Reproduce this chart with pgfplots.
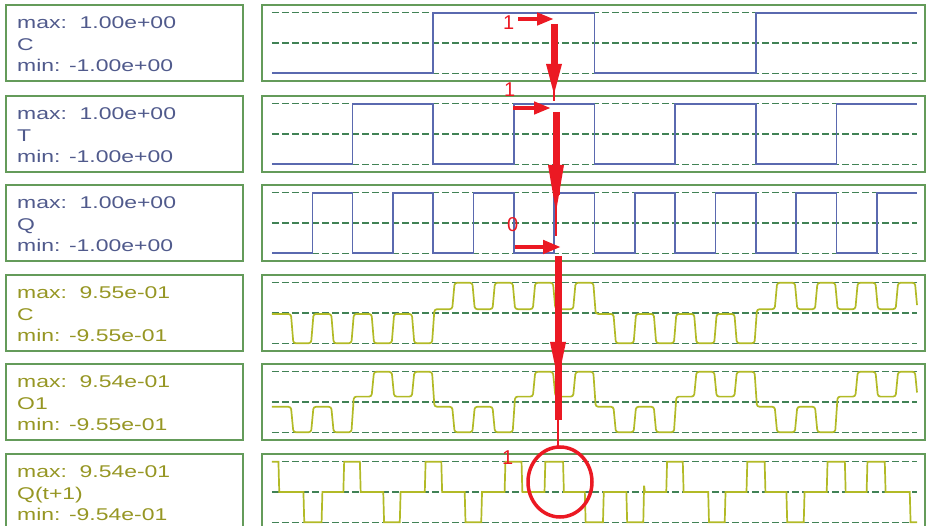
\documentclass[border=0pt]{standalone}
\usepackage{fontspec}
\usepackage{pgfplots}
\pgfplotsset{compat=1.18}
\usetikzlibrary{arrows.meta}
\newfontfamily\lblfont[FakeStretch=1.35]{Liberation Sans}
\newfontfamily\redfont{Liberation Sans}
\definecolor{framegreen}{RGB}{100,155,90}
\definecolor{gridgreen}{RGB}{65,130,85}
\definecolor{sigblue}{RGB}{90,105,175}
\definecolor{sigyellow}{RGB}{178,186,38}
\definecolor{textblue}{RGB}{80,90,140}
\definecolor{textyellow}{RGB}{150,150,35}
\definecolor{redc}{RGB}{235,25,35}
\pgfplotsset{
  wave/.style={scale only axis, width=663pt, height=76pt, anchor=north west,
    xmin=-0.248, xmax=16.198, xtick=\empty, ytick=\empty,
    axis line style={draw=framegreen, line width=2pt}, clip=false},
  gridline/.style={color=gridgreen, line width=1.25pt, dash pattern=on 7pt off 3pt, forget plot},
  bluesig/.style={color=sigblue, line width=1.6pt, mark=none},
  yelsig/.style={color=sigyellow, line width=1.7pt, mark=none, rounded corners=2.5pt},
}
\newcommand\lbl[5]{% top, color, line1, line2, line3
  \draw[framegreen, line width=2pt] (6pt,-#1pt) rectangle (243pt,-#1pt-76pt);
  \node[anchor=base west, inner sep=0pt, text=#2, font=\lblfont\fontsize{17pt}{20pt}\selectfont] at (17pt,-#1pt-23.5pt) {#3};
  \node[anchor=base west, inner sep=0pt, text=#2, font=\lblfont\fontsize{17pt}{20pt}\selectfont] at (17pt,-#1pt-45.7pt) {#4};
  \node[anchor=base west, inner sep=0pt, text=#2, font=\lblfont\fontsize{17pt}{20pt}\selectfont] at (17pt,-#1pt-67pt) {#5};
}
\begin{document}
\begin{tikzpicture}
\path[use as bounding box] (0pt,0pt) rectangle (927pt,-526pt);
\lbl{5}{textblue}{max:\ \ 1.00e+00}{C}{min: -1.00e+00}
\lbl{96}{textblue}{max:\ \ 1.00e+00}{T}{min: -1.00e+00}
\lbl{185}{textblue}{max:\ \ 1.00e+00}{Q}{min: -1.00e+00}
\lbl{275}{textyellow}{max:\ \ 9.55e-01}{C}{min: -9.55e-01}
\lbl{364}{textyellow}{max:\ \ 9.54e-01}{O1}{min: -9.55e-01}
\lbl{454}{textyellow}{max:\ \ 9.54e-01}{Q(t+1)}{min: -9.54e-01}

% Row 1: C
\begin{axis}[wave, at={(262pt,-5pt)}, ymin=-1.256, ymax=1.256]
\addplot[gridline] coordinates {(0,1)(16,1)};
\addplot[gridline] coordinates {(0,0)(16,0)};
\addplot[gridline] coordinates {(0,-1)(16,-1)};
\addplot[bluesig] coordinates {(0,-1)(4,-1)(4,1)(8,1)(8,-1)(12,-1)(12,1)(16,1)};
\end{axis}

% Row 2: T
\begin{axis}[wave, at={(262pt,-96pt)}, ymin=-1.256, ymax=1.256]
\addplot[gridline] coordinates {(0,1)(16,1)};
\addplot[gridline] coordinates {(0,0)(16,0)};
\addplot[gridline] coordinates {(0,-1)(16,-1)};
\addplot[bluesig] coordinates {(0,-1)(2,-1)(2,1)(4,1)(4,-1)(6,-1)(6,1)(8,1)(8,-1)(10,-1)(10,1)(12,1)(12,-1)(14,-1)(14,1)(16,1)};
\end{axis}

% Row 3: Q
\begin{axis}[wave, at={(262pt,-185pt)}, ymin=-1.256, ymax=1.256]
\addplot[gridline] coordinates {(0,1)(16,1)};
\addplot[gridline] coordinates {(0,0)(16,0)};
\addplot[gridline] coordinates {(0,-1)(16,-1)};
\addplot[bluesig] coordinates {(0,-1)(1,-1)(1,1)(2,1)(2,-1)(3,-1)(3,1)(4,1)(4,-1)(5,-1)(5,1)(6,1)(6,-1)(7,-1)(7,1)(8,1)(8,-1)(9,-1)(9,1)(10,1)(10,-1)(11,-1)(11,1)(12,1)(12,-1)(13,-1)(13,1)(14,1)(14,-1)(15,-1)(15,1)(16,1)};
\end{axis}

% Row 4: C (analog)
\begin{axis}[wave, at={(262pt,-275pt)}, ymin=-1.2, ymax=1.2]
\addplot[gridline] coordinates {(0,0.955)(16,0.955)};
\addplot[gridline] coordinates {(0,0)(16,0)};
\addplot[gridline] coordinates {(0,-0.955)(16,-0.955)};
\addplot[yelsig] coordinates {(0,-0.03)(0.47,-0.03)(0.53,-0.955)(0.97,-0.955)(1.03,-0.03)(1.47,-0.03)(1.53,-0.955)(1.97,-0.955)(2.03,-0.03)(2.47,-0.03)(2.53,-0.955)(2.97,-0.955)(3.03,-0.03)(3.47,-0.03)(3.53,-0.955)(3.97,-0.955)(4.03,0.12)(4.47,0.12)(4.53,0.955)(4.97,0.955)(5.03,0.12)(5.47,0.12)(5.53,0.955)(5.97,0.955)(6.03,0.12)(6.47,0.12)(6.53,0.955)(6.97,0.955)(7.03,0.12)(7.47,0.12)(7.53,0.955)(7.97,0.955)(8.03,-0.03)(8.47,-0.03)(8.53,-0.955)(8.97,-0.955)(9.03,-0.03)(9.47,-0.03)(9.53,-0.955)(9.97,-0.955)(10.03,-0.03)(10.47,-0.03)(10.53,-0.955)(10.97,-0.955)(11.03,-0.03)(11.47,-0.03)(11.53,-0.955)(11.97,-0.955)(12.03,0.12)(12.47,0.12)(12.53,0.955)(12.97,0.955)(13.03,0.12)(13.47,0.12)(13.53,0.955)(13.97,0.955)(14.03,0.12)(14.47,0.12)(14.53,0.955)(14.97,0.955)(15.03,0.12)(15.47,0.12)(15.53,0.955)(15.95,0.955)(16,0.25)};
\end{axis}

% Row 5: O1
\begin{axis}[wave, at={(262pt,-364pt)}, ymin=-1.2, ymax=1.2]
\addplot[gridline] coordinates {(0,0.955)(16,0.955)};
\addplot[gridline] coordinates {(0,0)(16,0)};
\addplot[gridline] coordinates {(0,-0.955)(16,-0.955)};
\addplot[yelsig] coordinates {(0,-0.15)(0.47,-0.15)(0.53,-0.955)(0.97,-0.955)(1.03,-0.15)(1.47,-0.15)(1.53,-0.955)(1.97,-0.955)(2.03,0.17)(2.47,0.17)(2.53,0.954)(2.97,0.954)(3.03,0.17)(3.47,0.17)(3.53,0.954)(3.97,0.954)(4.03,-0.15)(4.47,-0.15)(4.53,-0.955)(4.97,-0.955)(5.03,-0.15)(5.47,-0.15)(5.53,-0.955)(5.97,-0.955)(6.03,0.17)(6.47,0.17)(6.53,0.954)(6.97,0.954)(7.03,0.17)(7.47,0.17)(7.53,0.954)(7.97,0.954)(8.03,-0.15)(8.47,-0.15)(8.53,-0.955)(8.97,-0.955)(9.03,-0.15)(9.47,-0.15)(9.53,-0.955)(9.97,-0.955)(10.03,0.17)(10.47,0.17)(10.53,0.954)(10.97,0.954)(11.03,0.17)(11.47,0.17)(11.53,0.954)(11.97,0.954)(12.03,-0.15)(12.47,-0.15)(12.53,-0.955)(12.97,-0.955)(13.03,-0.15)(13.47,-0.15)(13.53,-0.955)(13.97,-0.955)(14.03,0.17)(14.47,0.17)(14.53,0.954)(14.97,0.954)(15.03,0.17)(15.47,0.17)(15.53,0.954)(15.95,0.954)(16,0.3)};
\end{axis}

% Row 6: Q(t+1)
\begin{axis}[wave, at={(262pt,-454pt)}, ymin=-1.2, ymax=1.2]
\addplot[gridline] coordinates {(0,0.955)(16,0.955)};
\addplot[gridline] coordinates {(0,0)(16,0)};
\addplot[gridline] coordinates {(0,-0.955)(16,-0.955)};
\addplot[color=sigyellow, line width=1.7pt, mark=none] coordinates {(0,0.954)(0.16,0.954)(0.18,0)(0.78,0)(0.80,-0.954)(1.23,-0.954)(1.25,0)(1.77,0)(1.79,0.954)(2.18,0.954)(2.20,0)(2.76,0)(2.78,-0.954)(3.17,-0.954)(3.19,0)(3.79,0)(3.81,0.954)(4.20,0.954)(4.22,0)(4.78,0)(4.80,-0.954)(5.19,-0.954)(5.21,0)(5.77,0)(5.79,0.954)(6.19,0.954)(6.21,0)(6.76,0)(6.78,0.954)(7.22,0.954)(7.24,0)(7.76,0)(7.78,-0.954)(8.21,-0.954)(8.23,0)(8.79,0)(8.81,-0.954)(9.21,-0.954)(9.23,0.2)(9.25,0)(9.78,0)(9.80,0.954)(10.19,0.954)(10.21,0)(10.82,0)(10.84,-0.954)(11.23,-0.954)(11.25,0)(11.77,0)(11.79,0.954)(12.22,0.954)(12.24,0)(12.76,0)(12.78,-0.954)(13.19,-0.954)(13.21,0)(13.76,0)(13.78,0.954)(14.21,0.954)(14.23,0)(14.75,0)(14.77,0.954)(15.20,0.954)(15.22,0)(15.82,0)(15.84,-0.954)(16,-0.954)};
\end{axis}

% Red annotations
\draw[redc, line width=4.5pt, -{Triangle[length=17pt,width=12pt]}] (518pt,-19pt) -- (554pt,-19pt);
\draw[redc, line width=7pt] (554pt,-24pt) -- (554pt,-80pt);
\fill[redc] (546pt,-64pt) -- (562pt,-64pt) -- (554pt,-94pt) -- cycle;
\draw[redc, line width=2.5pt] (554pt,-90pt) -- (554pt,-101pt);

\draw[redc, line width=4.5pt, -{Triangle[length=17pt,width=12pt]}] (513pt,-108pt) -- (551pt,-108pt);
\draw[redc, line width=7pt] (556pt,-112pt) -- (556pt,-195pt);
\fill[redc] (548pt,-165pt) -- (564pt,-165pt) -- (556pt,-212pt) -- cycle;
\draw[redc, line width=2.5pt] (556pt,-205pt) -- (556pt,-236pt);

\draw[redc, line width=4.5pt, -{Triangle[length=18pt,width=13pt]}] (515pt,-247pt) -- (561pt,-247pt);
\draw[redc, line width=7pt] (558pt,-256pt) -- (558pt,-420pt);
\fill[redc] (550pt,-342pt) -- (566pt,-342pt) -- (558pt,-380pt) -- cycle;
\draw[redc, line width=2.5pt] (558pt,-418pt) -- (558pt,-448pt);

\draw[redc, line width=3.5pt] (560pt,-482pt) ellipse [x radius=32pt, y radius=35pt];

\node[anchor=base west, inner sep=0pt, text=redc, font=\redfont\fontsize{20pt}{22pt}\selectfont] at (503pt,-30pt) {1};
\node[anchor=base west, inner sep=0pt, text=redc, font=\redfont\fontsize{20pt}{22pt}\selectfont] at (504pt,-97pt) {1};
\node[anchor=base west, inner sep=0pt, text=redc, font=\redfont\fontsize{20pt}{22pt}\selectfont] at (507pt,-232pt) {0};
\node[anchor=base west, inner sep=0pt, text=redc, font=\redfont\fontsize{20pt}{22pt}\selectfont] at (502pt,-465pt) {1};
\end{tikzpicture}
\end{document}
